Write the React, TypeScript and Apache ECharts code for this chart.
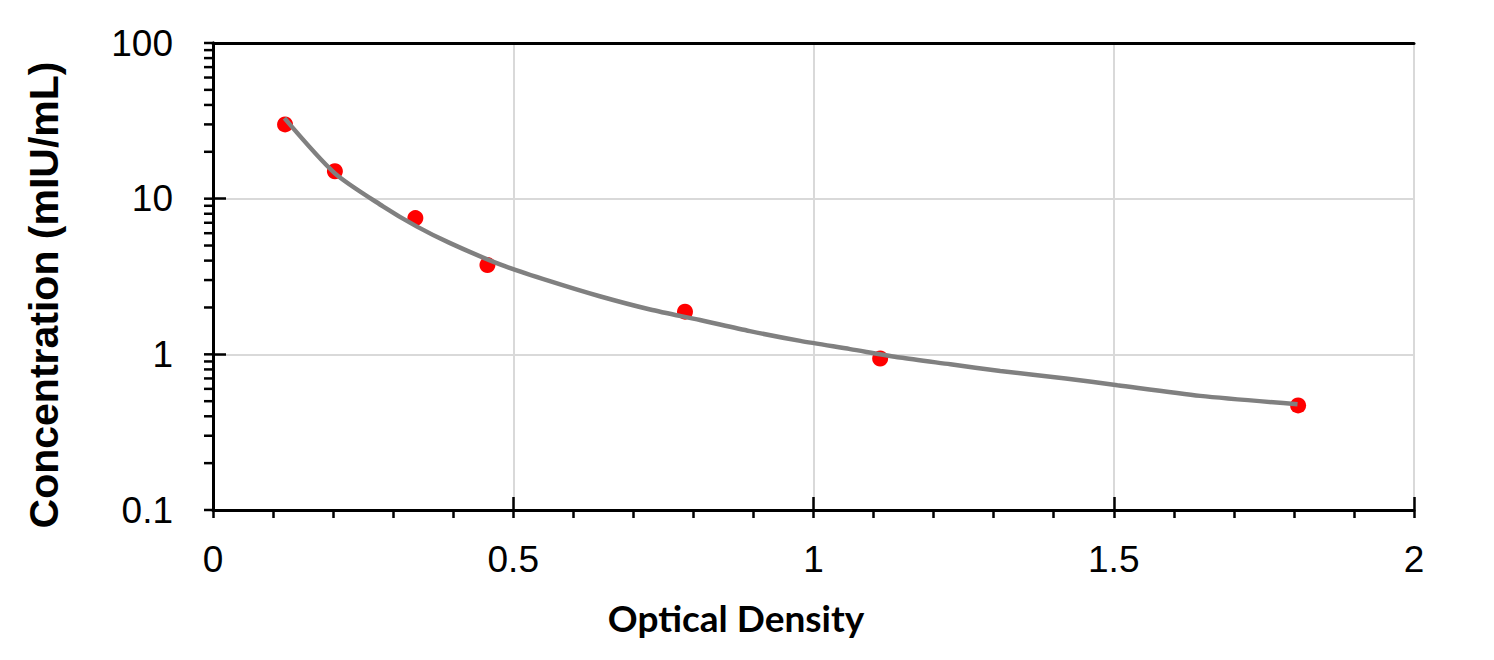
import React, { useEffect, useRef } from "react";
import * as echarts from "echarts";

// Standard points (Optical Density vs Concentration)
const stdOD = [0.12, 0.203, 0.337, 0.457, 0.786, 1.111, 1.807];
const stdConc = [30, 15, 7.5, 3.75, 1.88, 0.94, 0.47];

// Fitted curve
const curveOD = [0.119, 0.2025, 0.283, 0.339, 0.394, 0.478, 0.561, 0.644, 0.728, 0.811, 0.894, 0.978, 1.061, 1.144, 1.228, 1.311, 1.42, 1.506, 1.644, 1.806];
const curveConc = [32.9, 14.6, 8.93, 6.64, 5.2, 3.78, 2.95, 2.36, 1.94, 1.66, 1.41, 1.22, 1.08, 0.953, 0.863, 0.782, 0.7, 0.633, 0.541, 0.478];

// Axis ticks
const yMajorTicks = [0.1, 1, 10, 100];
const yMinorTicks = [0.2, 0.3, 0.4, 0.5, 0.6, 0.7, 0.8, 0.9, 2, 3, 4, 5, 6, 7, 8, 9, 20, 30, 40, 50, 60, 70, 80, 90];
const xMin = 0;
const xMax = 2;
const xInterval = 0.5;

const xTitle = "Optical Density";
const yTitle = "Concentration (mIU/mL)";

export default function App() {
  const ref = useRef<HTMLDivElement>(null);
  useEffect(() => {
    if (!ref.current) return;
    const chart = echarts.init(ref.current, null, { renderer: "svg" });
    const tickValues = [...yMajorTicks, ...yMinorTicks];
    const labelFont = "Liberation Sans, Arial, sans-serif";
    chart.setOption({
      animation: false,
      backgroundColor: "#fff",
      grid: {
        left: 213,
        right: 80,
        top: 43,
        bottom: 150,
        show: false,
      },
      xAxis: [
        {
          type: "value",
          min: xMin,
          max: xMax,
          interval: xInterval,
          position: "bottom",
          z: 2,
          axisLine: { show: true, lineStyle: { color: "#000", width: 3 } },
          axisTick: { show: true, inside: true, length: 13, lineStyle: { color: "#000", width: 2.5 } },
          minorTick: { show: false },
          splitLine: { show: true, lineStyle: { color: "#d9d9d9", width: 2 } },
          axisLabel: {
            show: true,
            margin: 31,
            fontSize: 37,
            color: "#000",
            fontFamily: labelFont,
            formatter: (v: number) => String(v),
          },
        },
        {
          type: "value",
          min: xMin,
          max: xMax,
          interval: xInterval,
          position: "bottom",
          z: 3,
          axisLine: { show: false },
          axisTick: { show: true, inside: false, length: 8, lineStyle: { color: "#000", width: 2.5 } },
          minorTick: { show: true, splitNumber: 5, length: 8, lineStyle: { color: "#000", width: 2.5 } },
          splitLine: { show: false },
          axisLabel: { show: false },
        },
        {
          type: "value",
          min: xMin,
          max: xMax,
          interval: xInterval,
          position: "top",
          z: 3,
          axisLine: { show: true, lineStyle: { color: "#000", width: 3 } },
          axisTick: { show: false },
          minorTick: { show: false },
          splitLine: { show: false },
          axisLabel: { show: false },
        },
      ],
      yAxis: [
        {
          type: "log",
          logBase: 10,
          min: 0.1,
          max: 100,
          position: "left",
          z: 2,
          axisLine: { show: true, lineStyle: { color: "#000", width: 3 } },
          axisTick: { show: true, inside: true, length: 13, lineStyle: { color: "#000", width: 2.5 } },
          splitLine: { show: true, lineStyle: { color: "#d9d9d9", width: 2 } },
          axisLabel: {
            show: true,
            margin: 40,
            fontSize: 37,
            color: "#000",
            fontFamily: labelFont,
            formatter: (v: number) => String(v),
          },
        },
        {
          type: "log",
          logBase: 10,
          min: 0.1,
          max: 100,
          position: "right",
          z: 3,
          axisLine: { show: true, lineStyle: { color: "#000", width: 3 } },
          axisTick: { show: false },
          splitLine: { show: false },
          axisLabel: { show: false },
        },
      ],
      graphic: [
        {
          type: "text",
          x: 736,
          y: 617,
          style: {
            text: xTitle,
            fontSize: 37,
            fontWeight: "bold",
            fontFamily: "Lato, 'Open Sans', sans-serif",
            fill: "#000",
            textAlign: "center",
            textVerticalAlign: "middle",
          },
        },
        {
          type: "text",
          x: 44,
          y: 295,
          rotation: Math.PI / 2,
          style: {
            text: yTitle,
            fontSize: 41,
            fontWeight: "bold",
            fontFamily: labelFont,
            fill: "#000",
            textAlign: "center",
            textVerticalAlign: "middle",
          },
        },
      ],
      series: [
        {
          type: "custom",
          name: "yOuterTicks",
          silent: true,
          clip: false,
          data: tickValues.map((v) => [0, v]),
          renderItem: (params: any, api: any) => {
            const p = api.coord([0, api.value(1)]);
            return {
              type: "line",
              shape: { x1: p[0] - 9, y1: p[1], x2: p[0], y2: p[1] },
              style: { stroke: "#000", lineWidth: 2.5 },
            };
          },
          z: 5,
        },
        {
          type: "scatter",
          name: "Standards",
          data: stdOD.map((x, i) => [x, stdConc[i]]),
          symbol: "circle",
          symbolSize: 16,
          itemStyle: { color: "#ff0000", opacity: 1 },
          z: 3,
        },
        {
          type: "line",
          name: "Fit",
          data: curveOD.map((x, i) => [x, curveConc[i]]),
          smooth: 0.25,
          showSymbol: false,
          symbol: "none",
          lineStyle: { color: "#808080", width: 4.5 },
          z: 4,
        },
      ],
    });
    return () => chart.dispose();
  }, []);
  return (
    <div
      ref={ref}
      style={{ position: "fixed", left: 0, top: 0, width: 1494, height: 660, background: "#fff" }}
    />
  );
}
